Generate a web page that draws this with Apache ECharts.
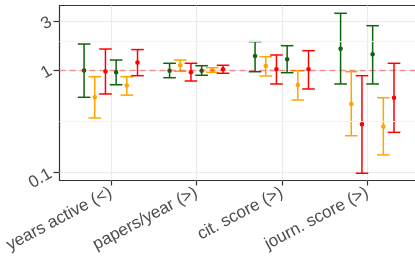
<!DOCTYPE html>
<html>
<head>
<meta charset="utf-8">
<script src="https://cdn.jsdelivr.net/npm/echarts@6/dist/echarts.min.js"></script>
<style>
  html, body { margin: 0; padding: 0; background: #fff; }
  #chart-container { width: 415px; height: 262px; }
</style>
</head>
<body>
<div id="chart-container"></div>
<script>
// categories on the x axis
const categories = ['years active (<)', 'papers/year (>)', 'cit. score (>)', 'journ. score (>)'];

// six estimates per category: green, orange, red, green, orange, red
const pointEst = [
    [0.99, 0.543, 0.967, 0.952, 0.706, 1.183],
    [0.984, 1.111, 0.950, 0.984, 1.007, 1.016],
    [1.369, 1.094, 1.016, 1.271, 0.714, 1.016],
    [1.612, 0.467, 0.296, 1.422, 0.281, 0.537]
];
const lowerCI = [
    [0.542, 0.341, 0.584, 0.718, 0.569, 0.88],
    [0.841, 0.971, 0.781, 0.888, 0.950, 0.929],
    [0.962, 0.874, 0.731, 0.941, 0.510, 0.653],
    [0.731, 0.229, 0.0987, 0.731, 0.149, 0.247]
];
const upperCI = [
    [1.79, 0.86, 1.60, 1.25, 0.86, 1.58],
    [1.162, 1.251, 1.162, 1.101, 1.053, 1.111],
    [1.887, 1.347, 1.400, 1.724, 0.984, 1.542],
    [3.565, 0.962, 0.880, 2.70, 0.537, 1.162]
];

// y axis ticks
const yTicks = [0.1, 1, 3];
const yMinor = [0.316, 1.89];
const refValue = 1;

const barColors = ['#0f640f', '#FFA500', '#FF0000', '#0f640f', '#FFA500', '#FF0000'];
const dodge = 0.125; // 组内间距

const chartContainer = document.getElementById('chart-container');
const myChart = echarts.init(chartContainer, null, { renderer: 'canvas' });

// errorbar 数据: [x, lo, est, hi, colorIndex]
const barData = [];
categories.forEach((cat, c) => {
    pointEst[c].forEach((est, j) => {
        const x = c + 1 + (j - 2.5) * dodge;
        barData.push([x, lowerCI[c][j], est, upperCI[c][j], j]);
    });
});

function renderErrorBar(params, api) {
    const x = api.value(0);
    const lo = api.coord([x, api.value(1)]);
    const mid = api.coord([x, api.value(2)]);
    const hi = api.coord([x, api.value(3)]);
    const color = barColors[api.value(4)];
    const half = 6.3;
    const st = { stroke: color, lineWidth: 1.5 };
    return {
        type: 'group',
        children: [
            { type: 'line', shape: { x1: lo[0], y1: lo[1], x2: hi[0], y2: hi[1] }, style: st },
            { type: 'line', shape: { x1: hi[0] - half, y1: hi[1], x2: hi[0] + half, y2: hi[1] }, style: st },
            { type: 'line', shape: { x1: lo[0] - half, y1: lo[1], x2: lo[0] + half, y2: lo[1] }, style: st },
            { type: 'circle', shape: { cx: mid[0], cy: mid[1], r: 2.3 }, style: { fill: color } }
        ]
    };
}

const labelFont = 'Liberation Sans, Arial, sans-serif';

const option = {
    animation: false,
    backgroundColor: '#fff',
    grid: {
        left: 59.5,
        right: -3.6,
        top: 5.5,
        bottom: 81.5,
        show: true,
        borderColor: '#333',
        borderWidth: 1.2,
        outerBoundsMode: 'none',
        containLabel: false
    },
    xAxis: {
        type: 'value',
        min: 0.4,
        max: 4.6,
        axisLine: { show: false },
        axisTick: { show: true, length: 5, customValues: [1, 2, 3, 4], lineStyle: { color: '#333', width: 1.2 } },
        axisLabel: {
            customValues: [1, 2, 3, 4],
            formatter: v => categories[Math.round(v) - 1] || '',
            rotate: 28,
            margin: 11,
            fontSize: 17,
            color: '#4d4d4d',
            fontFamily: labelFont
        },
        splitLine: { show: true, lineStyle: { color: '#ebebeb', width: 1.2 } }
    },
    yAxis: {
        type: 'log',
        logBase: 10,
        min: 0.0839,
        max: 4.246,
        axisLine: { show: false },
        axisTick: { show: true, length: 6, customValues: yTicks, lineStyle: { color: '#333', width: 1.2 } },
        axisLabel: {
            customValues: yTicks,
            formatter: v => String(v),
            rotate: 30,
            margin: 9,
            fontSize: 17,
            color: '#4d4d4d',
            fontFamily: labelFont
        },
        splitLine: { show: true, lineStyle: { color: '#ebebeb', width: 1.2 } }
    },
    series: [
        {
            type: 'line',
            data: [],
            silent: true,
            z: 1,
            markLine: {
                silent: true,
                symbol: 'none',
                label: { show: false },
                animation: false,
                data: yMinor.map(v => ({ yAxis: v, lineStyle: { color: '#f2f2f2', width: 0.9, type: 'solid' } }))
                    .concat([{ yAxis: refValue, lineStyle: { color: 'rgba(255,0,0,0.4)', width: 1.3, type: [6, 4] } }])
            }
        },
        {
            type: 'custom',
            renderItem: renderErrorBar,
            encode: { x: 0, y: [1, 2, 3] },
            data: barData,
            clip: false,
            z: 3
        }
    ]
};

myChart.setOption(option, { notMerge: true });
</script>
</body>
</html>
